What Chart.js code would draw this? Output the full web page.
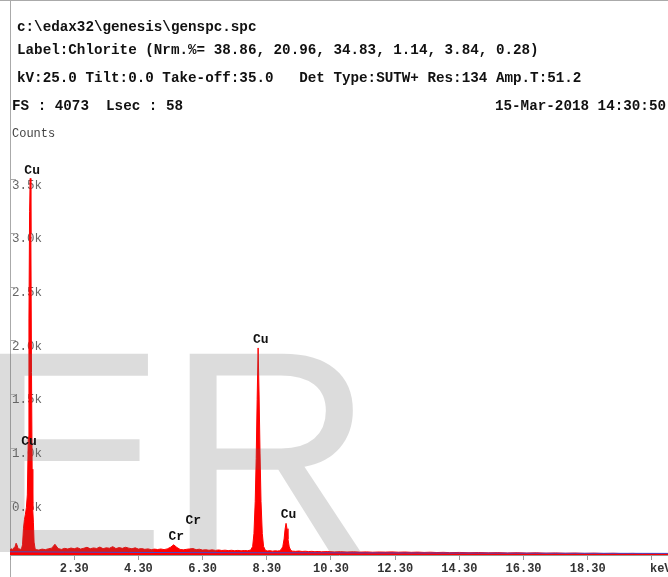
<!DOCTYPE html>
<html>
<head>
<meta charset="utf-8">
<script src="https://cdn.jsdelivr.net/npm/chart.js@4.4.1/dist/chart.umd.min.js"></script>
<style>
  html, body { margin: 0; padding: 0; background: #fff; }
  #wrap { position: relative; width: 668px; height: 577px; overflow: hidden; }
  #spc { position: absolute; left: 0; top: 0; }
  .hdr { position: absolute; font: bold 14.25px "Liberation Mono", monospace; color: #111; white-space: pre; line-height: 16px; }
  .small { font: 12px "Liberation Mono", monospace; color: #444; }
</style>
</head>
<body>
<div id="wrap">
  <canvas id="spc" width="668" height="577"></canvas>
  <div class="hdr" style="left:17px;top:19px">c:\edax32\genesis\genspc.spc</div>
  <div class="hdr" style="left:17px;top:42px">Label:Chlorite (Nrm.%= 38.86, 20.96, 34.83, 1.14, 3.84, 0.28)</div>
  <div class="hdr" style="left:17px;top:70px">kV:25.0 Tilt:0.0 Take-off:35.0   Det Type:SUTW+ Res:134 Amp.T:51.2</div>
  <div class="hdr" style="left:12px;top:98px">FS : 4073  Lsec : 58</div>
  <div class="hdr" style="right:2px;top:98px">15-Mar-2018 14:30:50</div>
  <div class="hdr small" style="left:12px;top:127px">Counts</div>
</div>
<script>
// full scale of the counts axis (FS)
const fullScale = 4073;

// measured spectrum, [keV, counts]
const spectrum = [
  [0.30, 48], [0.34, 58], [0.38, 52], [0.42, 66], [0.46, 80], [0.49, 110], [0.52, 92],
  [0.55, 62], [0.58, 48], [0.62, 52], [0.66, 60], [0.69, 95], [0.72, 250], [0.75, 330],
  [0.78, 380], [0.81, 440], [0.84, 560], [0.87, 1100], [0.89, 2200], [0.91, 3200],
  [0.93, 3510], [0.95, 3000], [0.97, 1700], [0.99, 800], [1.01, 420], [1.03, 300],
  [1.05, 120], [1.08, 62], [1.12, 50], [1.2, 46], [1.3, 55], [1.4, 50], [1.5, 58],
  [1.6, 64], [1.7, 100], [1.8, 60], [1.9, 52], [2.0, 62], [2.1, 56], [2.2, 65], [2.3, 58],
  [2.4, 68], [2.5, 55], [2.6, 63], [2.7, 72], [2.8, 58], [2.9, 66], [3.0, 61], [3.1, 74],
  [3.2, 59], [3.3, 67], [3.4, 63], [3.5, 78], [3.6, 60], [3.7, 69], [3.8, 62], [3.9, 72],
  [4.0, 64], [4.1, 58], [4.2, 67], [4.3, 55], [4.4, 60], [4.5, 53], [4.6, 57], [4.7, 50],
  [4.8, 55], [4.9, 51], [5.0, 56], [5.1, 50], [5.2, 57], [5.3, 72], [5.4, 95], [5.5, 70],
  [5.6, 52], [5.7, 48], [5.8, 53], [5.9, 57], [6.0, 60], [6.1, 50], [6.2, 54], [6.3, 46],
  [6.4, 49], [6.5, 44], [6.6, 48], [6.7, 43], [6.8, 47], [6.9, 42], [7.0, 45], [7.1, 41],
  [7.2, 44], [7.3, 40], [7.4, 43], [7.5, 39], [7.6, 42], [7.7, 40], [7.80, 46],
  [7.86, 80], [7.90, 200], [7.94, 500], [7.97, 900], [8.00, 1450], [8.03, 1930],
  [8.06, 1500], [8.09, 950], [8.12, 500], [8.16, 200], [8.20, 80], [8.26, 42], [8.32, 38],
  [8.40, 40], [8.48, 36], [8.56, 39], [8.64, 37], [8.70, 40], [8.76, 55], [8.80, 80],
  [8.84, 150], [8.87, 240], [8.90, 295], [8.93, 245], [8.96, 150], [9.00, 75], [9.05, 42],
  [9.1, 36], [9.2, 34], [9.3, 37], [9.4, 33], [9.5, 35], [9.6, 32], [9.7, 34], [9.8, 31],
  [9.9, 33], [10.0, 30], [10.2, 32], [10.4, 29], [10.6, 31], [10.8, 28], [11.0, 30],
  [11.2, 27], [11.4, 29], [11.6, 26], [11.8, 28], [12.0, 27], [12.2, 29], [12.4, 26],
  [12.6, 28], [12.8, 25], [13.0, 27], [13.2, 24], [13.4, 26], [13.6, 23], [13.8, 25],
  [14.0, 22], [14.3, 24], [14.6, 21], [14.9, 23], [15.2, 20], [15.5, 22], [15.8, 19],
  [16.1, 21], [16.4, 18], [16.7, 20], [17.0, 17], [17.3, 19], [17.6, 16], [17.9, 18],
  [18.2, 15], [18.5, 17], [18.8, 14], [19.1, 16], [19.4, 13], [19.7, 15], [20.0, 12],
  [20.3, 14], [20.6, 12], [20.8, 13]
];

// fitted background line
const bgKeV = [0.3, 1, 2, 4, 6, 8, 10, 12, 14, 16, 18, 20.8];
const bgCounts = [30, 29, 27, 24, 22, 21, 20, 19, 18, 17, 16, 15];

const xTicks = [0.3, 2.3, 4.3, 6.3, 8.3, 10.3, 12.3, 14.3, 16.3, 18.3, 20.3];
const xTickLabels = ["", "2.30", "4.30", "6.30", "8.30", "10.30", "12.30", "14.30", "16.30", "18.30", ""];
const xUnit = "keV";
const yTicks = [500, 1000, 1500, 2000, 2500, 3000, 3500];
const yTickLabels = ["0.5k", "1.0k", "1.5k", "2.0k", "2.5k", "3.0k", "3.5k"];

// peak labels: element, keV, counts level of the label
const peakNames = ["Cu", "Cu", "Cr", "Cr", "Cu", "Cu"];
const peakKeV = [0.99, 0.89, 5.48, 6.01, 8.11, 8.98];
const peakLabelCounts = [3580, 1055, 168, 317, 2004, 373];

const watermark = "ER";

const overlay = {
  id: "overlay",
  beforeDraw(chart) {
    const ctx = chart.ctx;
    ctx.save();
    ctx.strokeStyle = "#aaa";
    ctx.lineWidth = 1;
    ctx.beginPath();
    ctx.moveTo(0, 0.5);
    ctx.lineTo(668, 0.5);
    ctx.moveTo(10.5, 0);
    ctx.lineTo(10.5, 577);
    ctx.stroke();
    ctx.restore();
  },
  afterDatasetsDraw(chart) {
    const ctx = chart.ctx;
    ctx.save();
    ctx.font = '288px "Liberation Sans", Arial, sans-serif';
    ctx.fillStyle = "rgba(100,100,100,0.226)";
    ctx.textBaseline = "alphabetic";
    ctx.fillText(watermark, -26, 552);
    ctx.restore();
  },
  afterDraw(chart) {
    const ctx = chart.ctx;
    const xs = chart.scales.x;
    const ys = chart.scales.y;
    ctx.save();
    ctx.strokeStyle = "#aaa";
    ctx.lineWidth = 1;
    ctx.beginPath();
    yTicks.forEach(v => {
      const y = Math.round(ys.getPixelForValue(v)) + 0.5;
      ctx.moveTo(11, y);
      ctx.lineTo(16, y);
    });
    ctx.stroke();

    // unit label at the end of the energy axis
    ctx.font = 'bold 12px "Liberation Mono", monospace';
    ctx.fillStyle = "#333";
    ctx.textAlign = "left";
    ctx.textBaseline = "middle";
    ctx.fillText(xUnit, xs.getPixelForValue(xTicks[xTicks.length - 1]) - 2, xs.bottom - 8);

    ctx.font = 'bold 13px "Liberation Mono", monospace';
    ctx.fillStyle = "#111";
    ctx.textAlign = "center";
    peakNames.forEach((name, i) => {
      ctx.fillText(name, xs.getPixelForValue(peakKeV[i]), ys.getPixelForValue(peakLabelCounts[i]));
    });
    ctx.restore();
  }
};

new Chart(document.getElementById("spc"), {
  type: "line",
  data: {
    datasets: [
      {
        data: bgKeV.map((e, i) => ({ x: e, y: bgCounts[i] })),
        borderColor: "#4848c8",
        borderWidth: 1,
        pointRadius: 0,
        fill: false,
        order: 0
      },
      {
        data: spectrum.map(([e, c]) => ({ x: e, y: c })),
        borderColor: "#ff0000",
        backgroundColor: "#ff0000",
        borderWidth: 1,
        pointRadius: 0,
        tension: 0,
        fill: "origin",
        order: 1
      }
    ]
  },
  options: {
    responsive: false,
    animation: false,
    layout: { padding: { left: 10, top: 118, right: 0, bottom: 0 } },
    plugins: { legend: { display: false }, tooltip: { enabled: false } },
    scales: {
      x: {
        type: "linear",
        min: 0.3,
        max: 20.8,
        afterBuildTicks: s => { s.ticks = xTicks.map(v => ({ value: v })); },
        afterFit: s => { s.height = 22; },
        border: { display: true, color: "#999" },
        grid: { display: true, drawOnChartArea: false, drawTicks: true, tickLength: 5, color: "#999" },
        ticks: {
          autoSkip: false,
          maxRotation: 0,
          padding: 2,
          color: "#333",
          font: { family: "Liberation Mono", size: 12, weight: "bold" },
          callback: (v, i) => xTickLabels[i]
        }
      },
      y: {
        type: "linear",
        min: 0,
        max: fullScale,
        afterBuildTicks: s => { s.ticks = yTicks.map(v => ({ value: v })); },
        afterFit: s => { s.width = 0; },
        border: { display: false },
        grid: { display: false },
        ticks: {
          mirror: true,
          padding: 2,
          labelOffset: 6,
          color: "#666",
          font: { family: "Liberation Mono", size: 12.5 },
          callback: (v, i) => yTickLabels[i]
        }
      }
    }
  },
  plugins: [overlay]
});
</script>
</body>
</html>
